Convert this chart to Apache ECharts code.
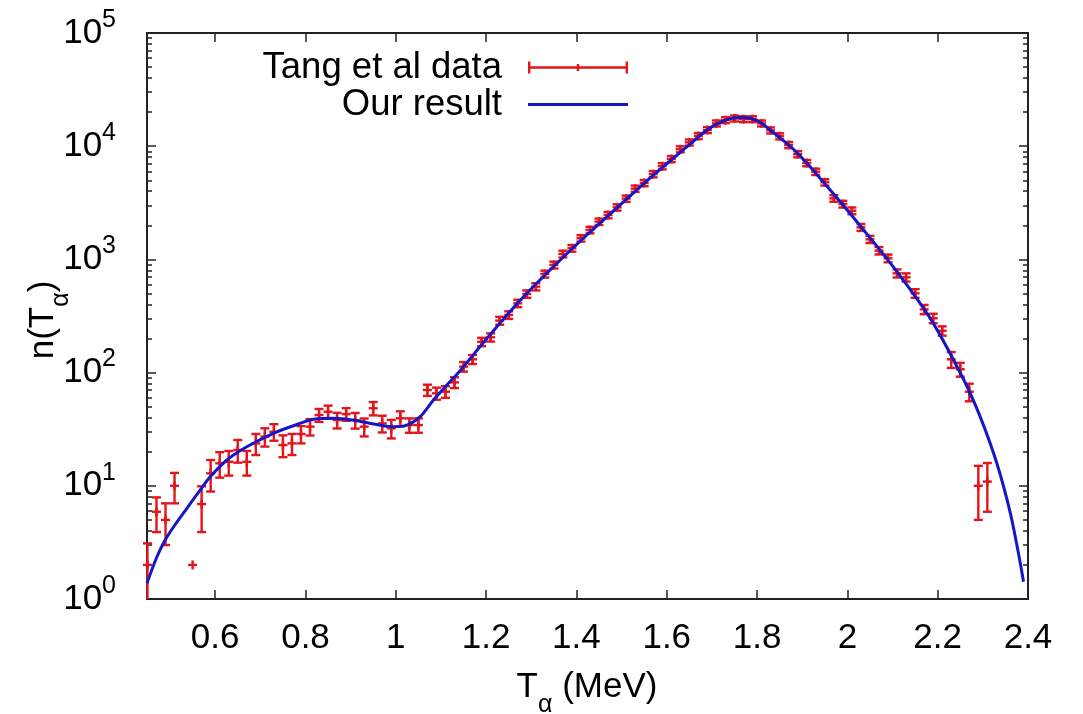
<!DOCTYPE html>
<html>
<head>
<meta charset="utf-8">
<script src="https://cdn.jsdelivr.net/npm/echarts@6/dist/echarts.min.js"></script>
<style>
  html, body { margin: 0; padding: 0; background: #fff; }
  #chart { width: 1083px; height: 714px; }
</style>
</head>
<body>
<div id="chart"></div>
<script>
// Tang et al data: energy (MeV), counts, error
var dataX = [0.45,0.47,0.49,0.51,0.55,0.57,0.59,0.61,0.63,0.65,0.67,0.69,0.71,0.73,0.75,0.77,0.79,0.81,0.83,0.85,
  0.87,0.89,0.91,0.93,0.95,0.97,0.99,1.01,1.03,1.05,1.07,1.09,1.11,1.13,1.15,1.17,1.19,1.21,1.23,1.25,
  1.27,1.29,1.31,1.33,1.35,1.37,1.39,1.41,1.43,1.45,1.47,1.49,1.51,1.53,1.55,1.57,1.59,1.61,1.63,1.65,
  1.67,1.69,1.71,1.73,1.75,1.77,1.79,1.81,1.83,1.85,1.87,1.89,1.91,1.93,1.95,1.97,1.99,2.01,2.03,2.05,
  2.07,2.09,2.11,2.13,2.15,2.17,2.19,2.21,2.23,2.25,2.27,2.29,2.31];
var dataY = [2,5.9,5.0,10,2,6.9,12.9,15.8,16.3,20.7,16.3,23.7,27.2,30,22.9,23.7,28.7,33.3,42.2,45.1,
  38.1,43,38,33.3,48.4,35.6,32.2,39.5,34.4,34.4,70.2,65.6,67.8,82,113,131,187,205,288,323,
  409,495,574,743,893,1117,1254,1537,1820,2155,2466,2884,3443,4220,4730,5670,6660,7700,9400,10800,
  12300,13900,15900,17000,17600,17350,17350,15900,13800,12250,10250,8500,7100,5950,4800,3460,3080,2690,1920,1505,
  1195,1023,754,695,502,362,302,234,131,107,67.8,10,10.9];
var dataErr = [1.1,2,2,3,0,3,4,4,4,4.7,4,5,5,5,5,5,5,5.5,5.5,6,
  6,5.5,6,6,6.5,6,6,6,5,5,8,8,8,9,11,12,16,17,23,25,
  31,37,42,52,62,76,85,100,120,140,160,185,220,270,300,360,420,480,580,660,
  750,850,960,1020,1060,1040,1040,960,840,750,630,530,450,380,310,230,210,185,135,110,
  90,80,62,58,44,34,29,22,21,15,12,5,5];

// Our result (curve)
var curveX = [0.449,0.471,0.489,0.508,0.537,0.567,0.589,0.626,0.67,0.729,0.788,0.818,0.862,0.914,0.951,0.991,1.025,1.054,1.083,1.113,
  1.139,1.202,1.276,1.349,1.423,1.497,1.571,1.645,1.689,1.72,1.75,1.77,1.80,1.829,1.888,1.962,2.036,2.110,2.184,2.258,
  2.294,2.331,2.361,2.383,2.39];
var curveY = [1.38,2.36,3.3,4.35,6.3,9.2,12,16.9,22.1,29.1,35.6,38.7,39.5,37.6,35.1,33.3,34.4,40.8,57,77.6,
  100,201,438,862,1643,3030,5570,9900,13900,16300,17800,17900,16800,13900,8800,4100,1820,778,300,86,
  40.8,15.8,5.7,2.07,1.42];

var xTicks = [0.6,0.8,1,1.2,1.4,1.6,1.8,2,2.2,2.4];
var yMajor = [1,10,100,1000,10000,100000];
var yMinor = [2,3,4,5,6,7,8,9,20,30,40,50,60,70,80,90,200,300,400,500,600,700,800,900,
  2000,3000,4000,5000,6000,7000,8000,9000,20000,30000,40000,50000,60000,70000,80000,90000];

var RED = '#e3151b';
var BLUE = '#1616c8';
var FONT = 'Liberation Sans, Arial, sans-serif';

var errData = [];
for (var i = 0; i < dataX.length; i++) {
  errData.push([dataX[i], dataY[i], dataY[i] - dataErr[i], dataY[i] + dataErr[i]]);
}
var curveData = [];
for (var j = 0; j < curveX.length; j++) {
  curveData.push([curveX[j], curveY[j]]);
}

function seg(x1, y1, x2, y2) {
  return { type: 'line', shape: { x1: x1, y1: y1, x2: x2, y2: y2 },
    style: { stroke: RED, lineWidth: 2.4 } };
}

function renderErr(params, api) {
  var x = api.value(0);
  var c = api.coord([x, api.value(1)]);
  var lo = api.coord([x, api.value(2)]);
  var hi = api.coord([x, api.value(3)]);
  var bottom = params.coordSys.y + params.coordSys.height;
  var ly = Math.min(lo[1], bottom);
  var kids = [
    seg(c[0] - 4.5, c[1], c[0] + 4.5, c[1]),
    seg(c[0], c[1] - 4.5, c[0], c[1] + 4.5)
  ];
  if (ly - hi[1] > 1) {
    kids.push(seg(c[0], hi[1], c[0], ly));
    kids.push(seg(c[0] - 4.5, hi[1], c[0] + 4.5, hi[1]));
    if (lo[1] <= bottom) kids.push(seg(c[0] - 4.5, ly, c[0] + 4.5, ly));
  }
  return { type: 'group', children: kids };
}

var tickStyle = { color: '#222', width: 1.5 };

function xAxisOf(pos, labels) {
  return {
    type: 'value', position: pos, min: 0.449, max: 2.4,
    axisLine: { show: false }, splitLine: { show: false },
    axisTick: { show: true, inside: true, length: 9, customValues: xTicks, lineStyle: tickStyle },
    axisLabel: { show: labels, customValues: xTicks, margin: 21, fontSize: 35, lineHeight: 36,
      color: '#000', fontFamily: FONT }
  };
}

function yAxisOf(pos, ticks, len, labels) {
  return {
    type: 'log', logBase: 10, position: pos, min: 1, max: 100000,
    axisLine: { show: false }, splitLine: { show: false }, minorTick: { show: false },
    axisTick: { show: true, inside: true, length: len, customValues: ticks, lineStyle: tickStyle },
    axisLabel: {
      show: labels, customValues: ticks, margin: 31,
      formatter: function (v) { return '{b|10}{s|' + Math.round(Math.log10(v)) + '}'; },
      rich: {
        b: { fontSize: 35, lineHeight: 40, color: '#000', fontFamily: FONT },
        s: { fontSize: 25, lineHeight: 25, color: '#000', fontFamily: FONT, padding: [0, 0, 26, 0] }
      }
    }
  };
}

var chart = echarts.init(document.getElementById('chart'));
chart.setOption({
  animation: false,
  backgroundColor: '#fff',
  grid: { left: 147, right: 55, top: 33, bottom: 115, show: true,
    borderColor: '#222', borderWidth: 2, backgroundColor: 'transparent' },
  legend: {
    orient: 'vertical', right: 450, top: 44, align: 'right',
    itemWidth: 100, itemHeight: 12, itemGap: 0, selectedMode: false,
    textStyle: { fontSize: 36.5, lineHeight: 36, color: '#000', fontFamily: FONT, padding: [0, 21, 0, 0] },
    data: [
      { name: 'Tang et al data', icon: 'path://M0,4.8h100v2.4H0z M0,0h2.4v12H0z M97.6,0h2.4v12h-2.4z M48.8,2.5h2.4v7h-2.4z' },
      { name: 'Our result', icon: 'path://M0,0h0.01v0.01H0z M0,4.5h100v3H0z M99.99,11.99h0.01v0.01h-0.01z' }
    ]
  },
  xAxis: [xAxisOf('bottom', true), xAxisOf('top', false)],
  yAxis: [
    yAxisOf('left', yMajor, 9, true),
    yAxisOf('left', yMinor, 5, false),
    yAxisOf('right', yMajor, 9, false),
    yAxisOf('right', yMinor, 5, false)
  ],
  graphic: [
    { type: 'text', x: 587, y: 687,
      style: { text: '{t|T}{a|α}{t| (MeV)}', align: 'center', verticalAlign: 'middle',
        rich: {
          t: { fontSize: 35, lineHeight: 36, fill: '#000', fontFamily: FONT },
          a: { fontSize: 25, lineHeight: 25, fill: '#000', fontFamily: FONT, padding: [36, 0, 0, 0] }
        } } },
    { type: 'text', x: 43, y: 320, rotation: Math.PI / 2,
      style: { text: '{t|n(T}{a|α}{t|)}', align: 'center', verticalAlign: 'middle',
        rich: {
          t: { fontSize: 35, lineHeight: 36, fill: '#000', fontFamily: FONT },
          a: { fontSize: 25, lineHeight: 25, fill: '#000', fontFamily: FONT, padding: [36, 0, 0, 0] }
        } } }
  ],
  series: [
    {
      type: 'custom',
      name: 'Tang et al data',
      xAxisIndex: 0, yAxisIndex: 0,
      itemStyle: { color: RED },
      encode: { x: 0, y: 1 },
      clip: false,
      z: 3,
      renderItem: renderErr,
      data: errData
    },
    {
      type: 'line',
      name: 'Our result',
      xAxisIndex: 0, yAxisIndex: 0,
      symbol: 'none',
      smooth: 0.3,
      clip: true,
      z: 4,
      lineStyle: { color: BLUE, width: 3 },
      itemStyle: { color: BLUE },
      data: curveData
    }
  ]
});
</script>
</body>
</html>
